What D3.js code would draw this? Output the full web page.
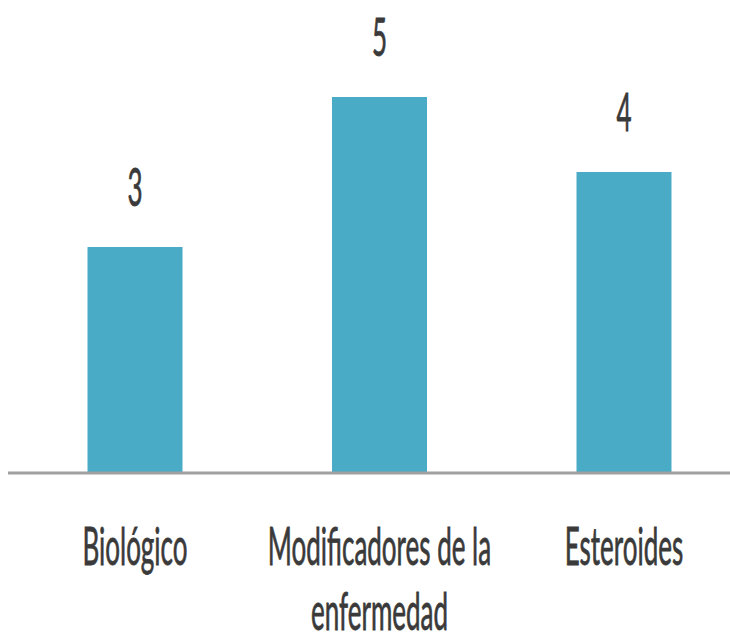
<!DOCTYPE html>
<html>
<head>
<meta charset="utf-8">
<script src="https://cdn.jsdelivr.net/npm/d3@7"></script>
<style>
  html, body { margin: 0; padding: 0; background: #ffffff; }
  svg { display: block; }
</style>
</head>
<body>
<script>
const categories = ["Biológico", "Modificadores de la enfermedad", "Esteroides"];
const categoryLines = [["Biológico"], ["Modificadores de la", "enfermedad"], ["Esteroides"]];
const values = [3, 5, 4];

const W = 730, H = 643;
const svg = d3.select("body").append("svg").attr("width", W).attr("height", H);

const x = d3.scaleBand().domain(categories).range([38, 721])
  .paddingInner(0.6115).paddingOuter(0.2025);
const y = d3.scaleLinear().domain([0, 5]).range([472, 97]);

const FONT = "Lato, 'Open Sans', sans-serif";
const FS = 52, SX = 0.5;
const textColor = "#3a3a3a";

// bars
svg.selectAll("rect.bar").data(values).enter().append("rect")
  .attr("class", "bar")
  .attr("x", (d, i) => x(categories[i]))
  .attr("y", d => y(d))
  .attr("width", x.bandwidth())
  .attr("height", d => y(0) - y(d))
  .attr("fill", "#4aabc6");

// axis line
svg.append("line")
  .attr("x1", 8).attr("x2", W)
  .attr("y1", y(0) + 1).attr("y2", y(0) + 1)
  .attr("stroke", "#a0a0a0").attr("stroke-width", 3);

// value labels
svg.selectAll("text.val").data(values).enter().append("text")
  .attr("class", "val")
  .attr("transform", (d, i) => `translate(${x(categories[i]) + x.bandwidth() / 2},${y(d) - 41}) scale(${SX},1)`)
  .attr("text-anchor", "middle")
  .attr("font-family", FONT).attr("font-size", FS)
  .attr("fill", textColor).attr("stroke", textColor).attr("stroke-width", 0.8)
  .text(d => d);

// category labels
categories.forEach((c, i) => {
  categoryLines[i].forEach((line, j) => {
    svg.append("text")
      .attr("transform", `translate(${x(c) + x.bandwidth() / 2},${565 + j * 65}) scale(${SX},1)`)
      .attr("text-anchor", "middle")
      .attr("font-family", FONT).attr("font-size", FS)
      .attr("fill", textColor).attr("stroke", textColor).attr("stroke-width", 0.8)
      .text(line);
  });
});
</script>
</body>
</html>
